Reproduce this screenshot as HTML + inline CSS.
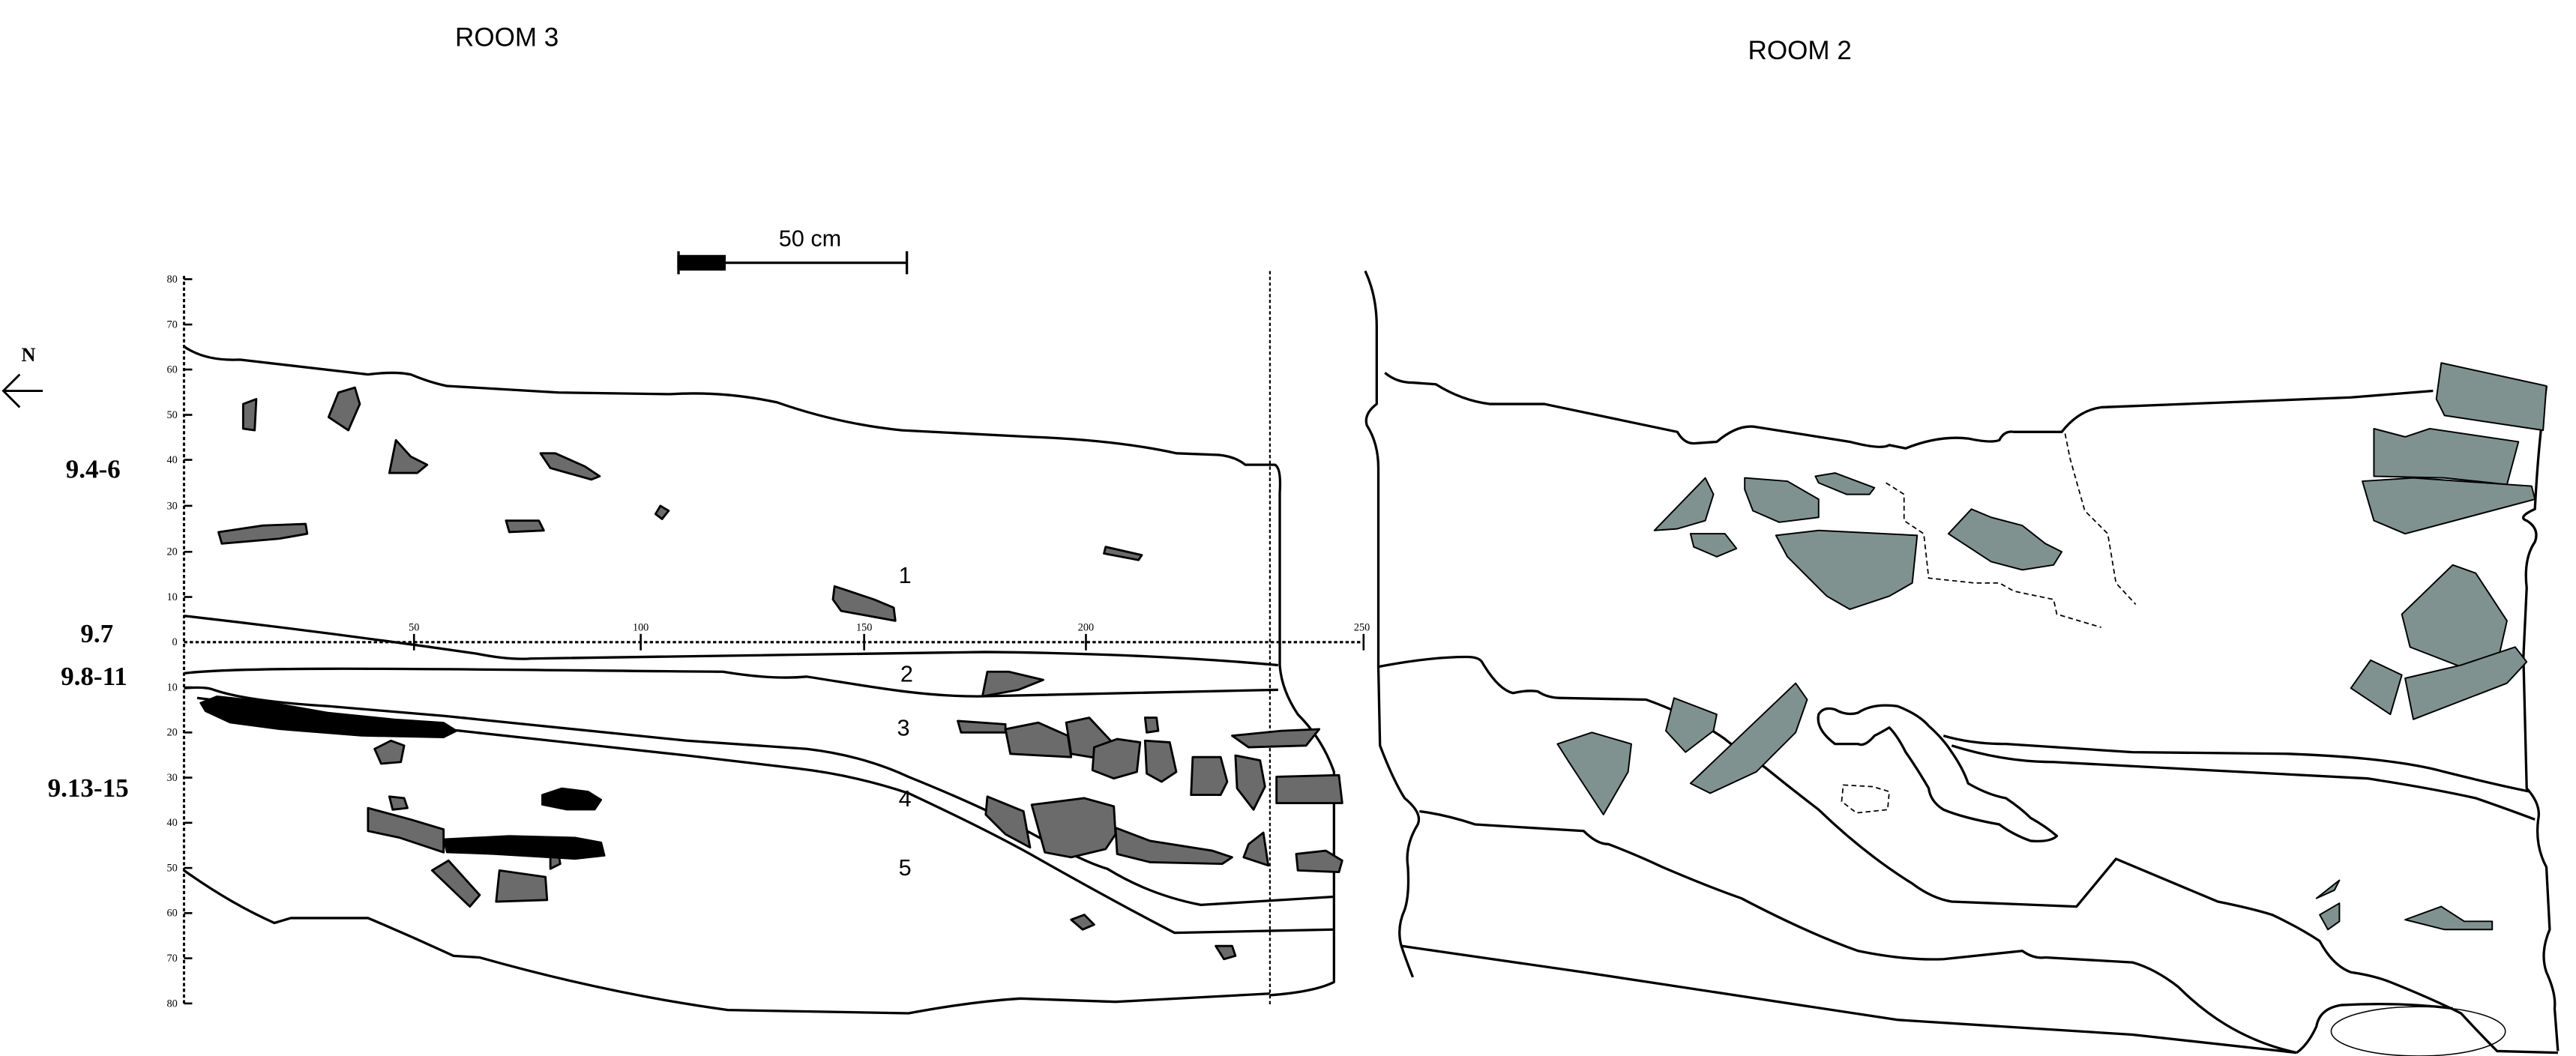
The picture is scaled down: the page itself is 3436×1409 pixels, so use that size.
<!DOCTYPE html>
<html><head><meta charset="utf-8"><style>
html,body{margin:0;padding:0;background:#fff;}
svg{display:block;}
</style></head><body>
<svg width="3436" height="1409" viewBox="0 0 1568 643" xmlns="http://www.w3.org/2000/svg">
<rect width="1568" height="643" fill="#fff"/>
<g font-family="Liberation Sans, sans-serif" fill="#000">
<text x="277" y="28" font-size="16">ROOM 3</text>
<text x="1064" y="36" font-size="16">ROOM 2</text>
<text x="474" y="150" font-size="14">50 cm</text>
</g>
<g stroke="#000" stroke-width="1.5">
<rect x="413" y="156" width="28" height="8" fill="#000"/>
<line x1="441" y1="160" x2="552" y2="160"/>
<line x1="413" y1="153" x2="413" y2="167"/>
<line x1="552" y1="153" x2="552" y2="167"/>
</g>
<g stroke="#000" stroke-width="1.3" fill="none">
<line x1="2" y1="238" x2="26" y2="238"/>
<polyline points="12,228 2,238 12,248"/>
</g>
<text x="13" y="220" font-family="Liberation Serif, serif" font-weight="bold" font-size="12">N</text>
<g font-family="Liberation Serif, serif" font-weight="bold" font-size="16">
<text x="40" y="291">9.4-6</text>
<text x="49" y="391">9.7</text>
<text x="37" y="417">9.8-11</text>
<text x="29" y="485">9.13-15</text>
</g>
<g stroke="#000" stroke-width="1.4" stroke-dasharray="2,1.5" fill="none">
<line x1="112" y1="168" x2="112" y2="612"/>
<line x1="112" y1="391" x2="830" y2="391"/>
<line x1="773" y1="165" x2="773" y2="612" stroke-width="1"/>
</g>
<g stroke="#000" stroke-width="1.2">
<line x1="112" y1="170" x2="117" y2="170"/><line x1="112" y1="197.6" x2="117" y2="197.6"/>
<line x1="112" y1="225" x2="117" y2="225"/><line x1="112" y1="252.6" x2="117" y2="252.6"/>
<line x1="112" y1="280" x2="117" y2="280"/><line x1="112" y1="308" x2="117" y2="308"/>
<line x1="112" y1="336" x2="117" y2="336"/><line x1="112" y1="363.5" x2="117" y2="363.5"/>
<line x1="112" y1="418.5" x2="117" y2="418.5"/><line x1="112" y1="446" x2="117" y2="446"/>
<line x1="112" y1="473.5" x2="117" y2="473.5"/><line x1="112" y1="501" x2="117" y2="501"/>
<line x1="112" y1="528.5" x2="117" y2="528.5"/><line x1="112" y1="556" x2="117" y2="556"/>
<line x1="112" y1="583.5" x2="117" y2="583.5"/><line x1="112" y1="611" x2="117" y2="611"/>
<line x1="252" y1="386" x2="252" y2="396"/><line x1="390" y1="386" x2="390" y2="396"/>
<line x1="526" y1="386" x2="526" y2="396"/><line x1="661" y1="386" x2="661" y2="396"/>
<line x1="830" y1="386" x2="830" y2="396"/>
</g>
<g font-family="Liberation Serif, serif" font-size="6.5" text-anchor="end">
<text x="108" y="172">80</text><text x="108" y="199.6">70</text><text x="108" y="227">60</text>
<text x="108" y="254.6">50</text><text x="108" y="282">40</text><text x="108" y="310">30</text>
<text x="108" y="338">20</text><text x="108" y="365.5">10</text><text x="108" y="393">0</text>
<text x="108" y="420.5">10</text><text x="108" y="448">20</text><text x="108" y="475.5">30</text>
<text x="108" y="503">40</text><text x="108" y="530.5">50</text><text x="108" y="558">60</text>
<text x="108" y="585.5">70</text><text x="108" y="613">80</text>
</g>
<g font-family="Liberation Serif, serif" font-size="6.5" text-anchor="middle">
<text x="252" y="384">50</text><text x="390" y="384">100</text><text x="526" y="384">150</text>
<text x="661" y="384">200</text><text x="829" y="384">250</text>
</g>
<g font-family="Liberation Sans, sans-serif" font-size="14">
<text x="547" y="355">1</text><text x="548" y="415">2</text><text x="546" y="448">3</text>
<text x="547" y="491">4</text><text x="547" y="533">5</text>
</g>
<g stroke="#000" stroke-width="1.5" fill="none" stroke-linejoin="round">
<path d="M112,211 Q125,220 146,219 L224,228 Q240,226 250,228 Q262,233 272,235 L340,239 L408,240 Q440,238 473,245 Q510,258 549,262 L627,266 Q680,268 716,276 L742,277 Q752,278 758,283 L776,283 Q780,285 779,300 L779,405 Q780,420 790,435 Q805,450 812,470 L812,598 Q800,604 773,606"/>
<path d="M112,530 Q140,550 167,562 L177,559 L224,559 Q250,570 276,582 L292,583 Q370,605 443,615 L553,617 Q590,610 621,608 L679,610 L773,605"/>
<path d="M112,375 Q200,385 290,398 Q310,402 323,401 L600,397 Q700,398 778,405"/>
<path d="M112,410 C150,405 300,408 440,409 Q470,414 491,412 C530,418 560,424 595,424 L778,420"/>
<path d="M112,419 Q125,418 130,420 Q150,427 200,430 L271,436 L418,451 L491,456 Q525,460 553,473 Q600,492 627,507 Q660,525 674,529 Q700,545 731,551 L812,546"/>
<path d="M120,425 Q200,435 271,444 L418,460 L486,468 Q520,472 553,483 Q600,505 627,520 Q680,550 715,568 L812,566"/>
</g>
<g fill="#6b6b6b" stroke="#000" stroke-width="1.3" stroke-linejoin="round">
<path d="M148,246 L156,243 L155,262 L148,261 Z"/>
<path d="M206,239 L216,236 L219,246 L212,262 L200,254 Z"/>
<path d="M241,268 L250,278 L260,283 L254,288 L237,288 Z"/>
<path d="M329,276 L338,276 L356,284 L365,290 L360,292 L335,285 Z"/>
<path d="M133,324 L160,320 L186,319 L187,325 L170,328 L135,331 Z"/>
<path d="M308,317 L328,317 L331,323 L310,324 Z"/>
<path d="M402,308 L407,311 L403,316 L399,313 Z"/>
<path d="M673,333 L695,338 L693,341 L672,337 Z"/>
<path d="M508,357 L532,365 L544,370 L545,378 L512,372 L507,365 Z"/>
<path d="M601,409 L614,409 L635,414 L620,420 L598,424 Z"/>
<path d="M583,439 L612,441 L612,446 L585,446 Z"/>
<path d="M612,444 L632,440 L650,448 L652,461 L615,459 Z"/>
<path d="M649,440 L663,437 L677,452 L670,462 L652,459 Z"/>
<path d="M666,455 L680,450 L694,452 L692,470 L678,474 L665,469 Z"/>
<path d="M697,451 L712,452 L716,470 L707,476 L698,471 Z"/>
<path d="M697,437 L704,437 L705,445 L698,446 Z"/>
<path d="M726,461 L743,461 L747,476 L743,484 L725,484 Z"/>
<path d="M752,460 L767,463 L770,479 L763,493 L753,480 Z"/>
<path d="M750,448 L780,445 L803,444 L795,454 L760,455 Z"/>
<path d="M777,473 L815,472 L817,489 L777,489 Z"/>
<path d="M601,485 L623,494 L627,516 L612,508 L600,496 Z"/>
<path d="M628,490 L660,486 L678,491 L679,508 L673,517 L652,522 L636,519 Z"/>
<path d="M679,504 L700,512 L738,518 L750,522 L744,526 L700,525 L680,520 Z"/>
<path d="M769,507 L772,527 L757,522 L760,514 Z"/>
<path d="M789,520 L807,518 L817,524 L815,531 L790,530 Z"/>
<path d="M228,456 L238,451 L246,454 L244,464 L232,465 Z"/>
<path d="M237,485 L246,486 L248,492 L239,493 Z"/>
<path d="M224,492 L250,499 L270,505 L270,519 L243,510 L224,506 Z"/>
<path d="M263,530 L273,524 L292,545 L286,552 Z"/>
<path d="M304,530 L332,534 L333,548 L302,549 Z"/>
<path d="M335,521 L340,520 L341,526 L335,529 Z"/>
<path d="M652,560 L660,557 L666,563 L659,566 Z"/>
<path d="M740,576 L750,576 L752,582 L745,584 Z"/>
</g>
<g fill="#000" stroke="#000" stroke-width="1" stroke-linejoin="round">
<path d="M122,428 L132,424 L160,427 L200,434 L240,438 L270,440 L278,445 L270,449 L220,448 L170,444 L140,440 L125,433 Z"/>
<path d="M330,484 L342,480 L358,482 L366,487 L362,493 L345,493 L330,490 Z"/>
<path d="M270,511 L310,509 L350,510 L366,513 L368,521 L350,523 L300,520 L272,519 Z"/>
</g>
<g stroke="#000" stroke-width="1.5" fill="none" stroke-linejoin="round">
<path d="M831,165 Q838,180 838,199 L838,246 Q830,252 832,259 Q839,270 839,285 L839,406 L840,454 Q848,475 855,486 Q866,495 863,502 Q855,515 857,528 Q858,545 855,554 Q850,565 853,576 Q856,585 860,595"/>
<path d="M843,227 Q850,233 860,233 L874,234 Q890,244 907,246 L940,246 L1021,263 Q1025,270 1031,270 L1045,269 Q1058,258 1069,260 L1126,269 Q1145,274 1150,271 L1160,273 Q1180,265 1198,267 Q1212,270 1217,268 Q1220,262 1226,263 L1255,263 Q1265,250 1279,248 L1431,242 L1481,238"/>
<path d="M1550,235 Q1545,270 1543,310 Q1532,315 1538,317 Q1546,322 1543,330 Q1536,340 1538,358 L1536,400 L1538,480 Q1547,490 1545,499 Q1543,515 1550,528 L1552,566 Q1546,580 1550,592 Q1556,605 1555,614 L1557,640"/>
<path d="M839,406 Q870,400 893,400 Q900,400 902,403 Q912,420 921,422 Q930,420 936,421 Q942,425 950,425 L1002,426 Q1030,436 1050,450 Q1062,460 1074,467 Q1090,480 1107,493 Q1135,520 1164,538 Q1176,547 1188,549 L1264,552 L1288,523 L1350,549 Q1370,553 1383,557 Q1400,565 1412,573 Q1420,588 1431,592 Q1445,594 1455,598 Q1480,608 1498,617 Q1510,630 1520,640 L1557,641"/>
<path d="M864,494 Q880,496 898,502 L964,506 Q972,514 979,514 Q995,520 1012,528 Q1040,540 1060,547 Q1100,568 1131,579 Q1160,585 1183,584 L1231,579 Q1238,584 1245,583 L1298,586 Q1312,590 1326,601 Q1340,615 1355,624 Q1375,636 1398,641"/>
<path d="M853,576 L964,592 L1155,621 L1298,630 L1398,641"/>
<path d="M1183,448 Q1200,453 1221,453 L1298,458 L1393,459 Q1420,460 1440,462 Q1470,465 1488,470 Q1520,478 1540,482"/>
<path d="M1188,454 Q1220,464 1250,464 L1345,469 L1441,474 Q1480,480 1507,486 Q1530,494 1543,499"/>
<path d="M1117,453 Q1105,444 1107,435 Q1110,430 1117,432 Q1124,436 1131,434 Q1140,428 1155,430 Q1168,435 1174,442 Q1183,450 1188,458 Q1195,468 1198,477 Q1210,484 1221,486 Q1230,492 1236,498 Q1245,503 1252,509 Q1248,513 1236,512 Q1225,508 1217,502 Q1195,498 1183,493 Q1175,488 1174,480 Q1167,468 1160,458 Q1155,448 1150,443 Q1145,446 1141,448 Q1135,455 1131,453 Q1125,453 1124,453 Z"/>
<path d="M1398,641 Q1405,636 1410,625 Q1412,614 1425,612 Q1460,610 1493,614"/>
</g>
<ellipse cx="1472" cy="628" rx="53" ry="15" fill="none" stroke="#000" stroke-width="0.7"/>
<g stroke="#000" stroke-width="0.8" fill="none" stroke-dasharray="3,2">
<polyline points="1148,294 1159,301 1159,317 1171,325 1174,352 1202,355 1217,355 1226,360 1250,365 1252,374 1279,382"/>
<polyline points="1257,264 1260,279 1269,311 1283,325 1288,355 1300,368"/>
<path d="M1122,478 L1140,479 L1150,482 L1149,493 L1130,495 L1121,488 Z"/>
</g>
<g fill="#7f9290" stroke="#000" stroke-width="0.9" stroke-linejoin="round">
<path d="M1007,323 L1038,291 L1043,301 L1038,317 L1021,322 Z"/>
<path d="M1029,325 L1050,325 L1057,334 L1045,339 L1031,333 Z"/>
<path d="M1062,291 L1088,293 L1107,304 L1107,315 L1083,318 L1067,311 L1062,298 Z"/>
<path d="M1105,290 L1117,288 L1141,297 L1138,301 L1124,301 L1107,294 Z"/>
<path d="M1081,326 L1107,323 L1167,326 L1164,355 L1150,363 L1126,371 L1112,363 L1088,339 Z"/>
<path d="M1186,325 L1200,310 L1212,315 L1231,320 L1245,331 L1255,336 L1250,344 L1231,347 L1212,342 Z"/>
<path d="M1486,221 L1550,235 L1548,262 L1488,253 L1483,243 Z"/>
<path d="M1445,261 L1464,266 L1479,261 L1533,269 L1526,295 L1488,291 L1445,290 Z"/>
<path d="M1438,293 L1469,291 L1541,296 L1543,304 L1464,325 L1445,317 Z"/>
<path d="M1462,374 L1493,344 L1507,349 L1526,378 L1521,400 L1498,406 L1467,394 Z"/>
<path d="M1431,419 L1443,402 L1462,411 L1455,435 Z"/>
<path d="M1464,413 L1498,405 L1531,394 L1538,403 L1526,416 L1469,438 Z"/>
<path d="M948,453 L969,446 L993,453 L991,470 L976,496 L955,464 Z"/>
<path d="M1019,425 L1045,435 L1043,445 L1026,458 L1014,445 Z"/>
<path d="M1029,477 L1093,416 L1100,426 L1093,446 L1069,470 L1041,483 Z"/>
<path d="M1410,547 L1424,536 L1421,542 Z"/>
<path d="M1412,557 L1424,550 L1424,561 L1417,566 Z"/>
<path d="M1464,560 L1486,552 L1500,561 L1517,561 L1517,566 L1488,566 Z"/>
</g>
</svg>
</body></html>
